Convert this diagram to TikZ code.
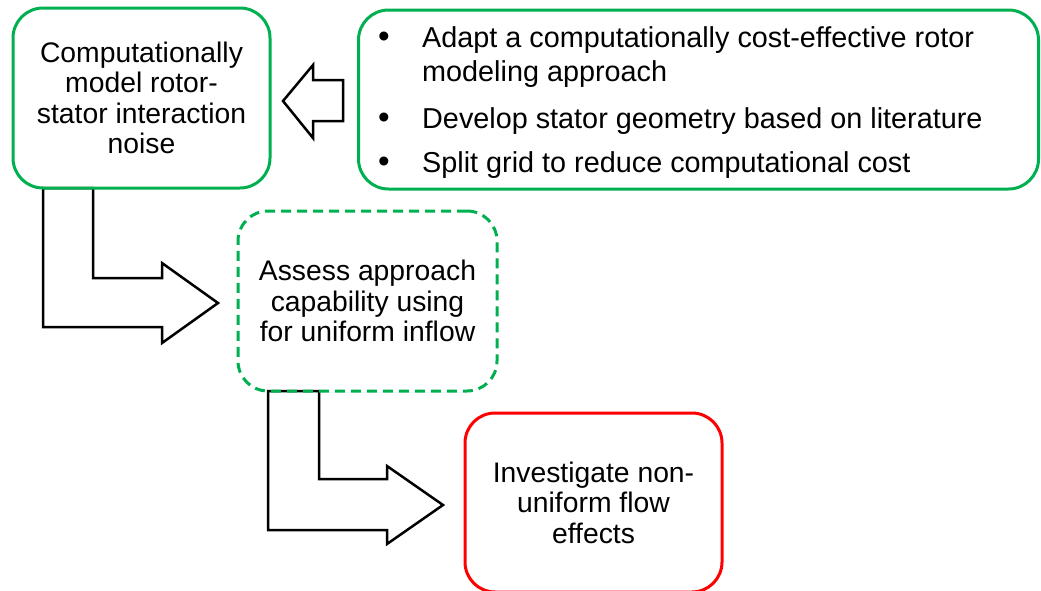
\documentclass[tikz,border=0pt]{standalone}
\usepackage{fontspec}
\setmainfont{Liberation Sans}
\definecolor{pgreen}{HTML}{00B050}
\definecolor{pred}{HTML}{FF0000}
\begin{document}
\begin{tikzpicture}[x=1pt,y=-1pt,
  boxbase/.style={line width=3pt, rounded corners=30pt, align=center, inner sep=0pt,
    font=\fontsize{28.3}{30.5}\selectfont},
  gbox/.style={boxbase, draw=pgreen},
  gdbox/.style={boxbase, draw=pgreen, dash pattern=on 10pt off 6pt},
  rbox/.style={boxbase, draw=pred},
  blockarrow/.style={draw=black, line width=2.5pt, line join=miter},
  txt/.style={inner sep=0pt, font=\fontsize{28.8}{30.5}\selectfont}
]
\useasboundingbox (0,0) rectangle (1041,590);
% block arrows (under the boxes)
\draw[blockarrow] (343,80) -- (313,80) -- (313,65) -- (283,101) -- (313,138) -- (313,121) -- (343,121) -- cycle;
\draw[blockarrow] (43,188) -- (93,188) -- (93,278) -- (162,278) -- (162,263) -- (218,303) -- (162,343) -- (162,327) -- (43,327) -- cycle;
\draw[blockarrow] (268,391) -- (319,391) -- (319,479) -- (387,479) -- (387,466) -- (443,505) -- (387,544) -- (387,530) -- (268,530) -- cycle;
% boxes
\node[gbox, minimum width=257pt, minimum height=180pt] (b1) at (141.5,98)
  {Computationally\\model rotor-\\stator interaction\\noise};
\node[gbox, minimum width=680pt, minimum height=179pt] (b2) at (698.5,99.5) {};
\node[gdbox, minimum width=259pt, minimum height=180pt] (b3) at (367.5,301)
  {Assess approach\\capability using\\for uniform inflow};
\node[rbox, minimum width=257pt, minimum height=179pt] (b4) at (593.5,502.5)
  {Investigate non-\\uniform flow\\effects};
% bullet list
\node[txt, anchor=base, scale=1.15] (d1) at (384,47) {•};
\node[txt, anchor=base west] (t1) at (422,47) {Adapt a computationally cost-effective rotor};
\node[txt, anchor=base west] (t2) at (422,81) {modeling approach};
\node[txt, anchor=base, scale=1.15] (d2) at (384,128) {•};
\node[txt, anchor=base west] (t3) at (422,128) {Develop stator geometry based on literature};
\node[txt, anchor=base, scale=1.15] (d3) at (384,172) {•};
\node[txt, anchor=base west] (t4) at (422,172) {Split grid to reduce computational cost};
\end{tikzpicture}
\end{document}
